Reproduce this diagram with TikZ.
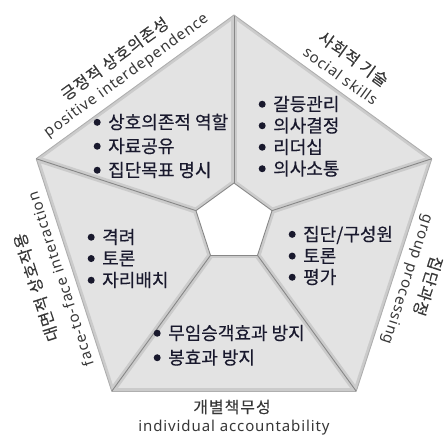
\documentclass[tikz,border=0pt]{standalone}
\usepackage{fontspec}
\setmainfont{Noto Sans CJK KR}
\newfontfamily\itemfont{Noto Sans CJK KR}[FakeBold=0.4]
\newfontfamily\korfont{Noto Sans CJK KR}[LetterSpace=6,FakeBold=0.2]
\newfontfamily\engfont{Noto Sans}[LetterSpace=6]
\definecolor{seggray}{RGB}{227,227,227}
\definecolor{linegray}{RGB}{135,135,135}
\definecolor{rimgray}{RGB}{175,175,175}
\definecolor{halogray}{RGB}{203,203,203}
\definecolor{labelgray}{RGB}{55,55,55}
\definecolor{itemink}{RGB}{25,25,45}
\newcommand{\blt}{\tikz[baseline=-6.5pt]\fill (0,0) circle (3.5pt);\hspace{7.5pt}}

\begin{document}
\begin{tikzpicture}[x=1pt,y=1pt,
  seg/.style={fill=seggray},
  rim/.style={draw=linegray,line width=0.9pt,line join=round},
  halo/.style={draw=halogray,line width=6pt},
  item/.style={anchor=west,inner sep=0pt,text=itemink,font=\itemfont\fontsize{18}{18}\selectfont},
  kor/.style={text=labelgray,inner sep=0pt,font=\korfont\fontsize{16}{16}\selectfont},
  eng/.style={text=labelgray,inner sep=0pt,font=\engfont\fontsize{15}{15}\selectfont}]
\useasboundingbox (-234,-214) rectangle (211,223);
% outer and inner corners
\foreach \i in {1,...,5} {
  \coordinate (O\i) at ({90+72*(\i-1)}:208);
  \coordinate (I\i) at ({90+72*(\i-1)}:40);
}
% five segments
\foreach \i/\j in {1/2,2/3,3/4,4/5,5/1} {
  \fill[seg] (O\i) -- (O\j) -- (I\j) -- (I\i) -- cycle;
}
\begin{scope}
\clip (O1) -- (O2) -- (O3) -- (O4) -- (O5) -- cycle;
\foreach \i/\j in {1/2,2/3,3/4,4/5,5/1} {
  \draw[halo] (I\i) -- (O\i);
  \draw[halo] (O\i) -- (O\j);
  \draw[halo] (I\i) -- (I\j);
}
\end{scope}
\fill[white] (I1) -- (I2) -- (I3) -- (I4) -- (I5) -- cycle;
\foreach \i/\j in {1/2,2/3,3/4,4/5,5/1} {
  \draw[rim,draw=rimgray] (O\i) -- (O\j);
  \draw[rim] (I\i) -- (I\j);
  \draw[rim] (I\i) -- (O\i);
}
% edge labels
\foreach \a/\d/\k/\e in {126/203/긍정적 상호의존성/positive interdependence,
  54/203/사회적 기술/social skills,
  342/204/집단과정/group processing,
  198/208/대면적 상호작용/face-to-face interaction} {
  \node[kor,rotate=\a-90] (K\a) at (\a:\d) {\k};
  \node[eng,rotate=\a-90] (E\a) at (\a:182) {\e};
}
\node[kor] (K270) at (-2,-184) {개별책무성};
\node[eng] (E270) at (0,-205) {individual accountability};
% bullet lists
\foreach \t [count=\n] in {상호의존적 역할,자료공유,집단목표 명시}
  \node[item] (PI\n) at (-140.5,{101-24*(\n-1)}) {\blt\t};
\foreach \t [count=\n] in {갈등관리,의사결정,리더십,의사소통}
  \node[item] (SS\n) at (24.5,{119-21.5*(\n-1)}) {\blt\t};
\foreach \t [count=\n] in {격려,토론,자리배치}
  \node[item] (FF\n) at (-146.5,{-14-21.5*(\n-1)}) {\blt\t};
\foreach \t [count=\n] in {무임승객효과 방지,봉효과 방지}
  \node[item] (IA\n) at (-80.5,{-110-24.5*(\n-1)}) {\blt\t};
\foreach \t [count=\n] in {집단/구성원,토론,평가}
  \node[item] (GP\n) at (54.5,{-12-21*(\n-1)}) {\blt\t};
\end{tikzpicture}
\end{document}
